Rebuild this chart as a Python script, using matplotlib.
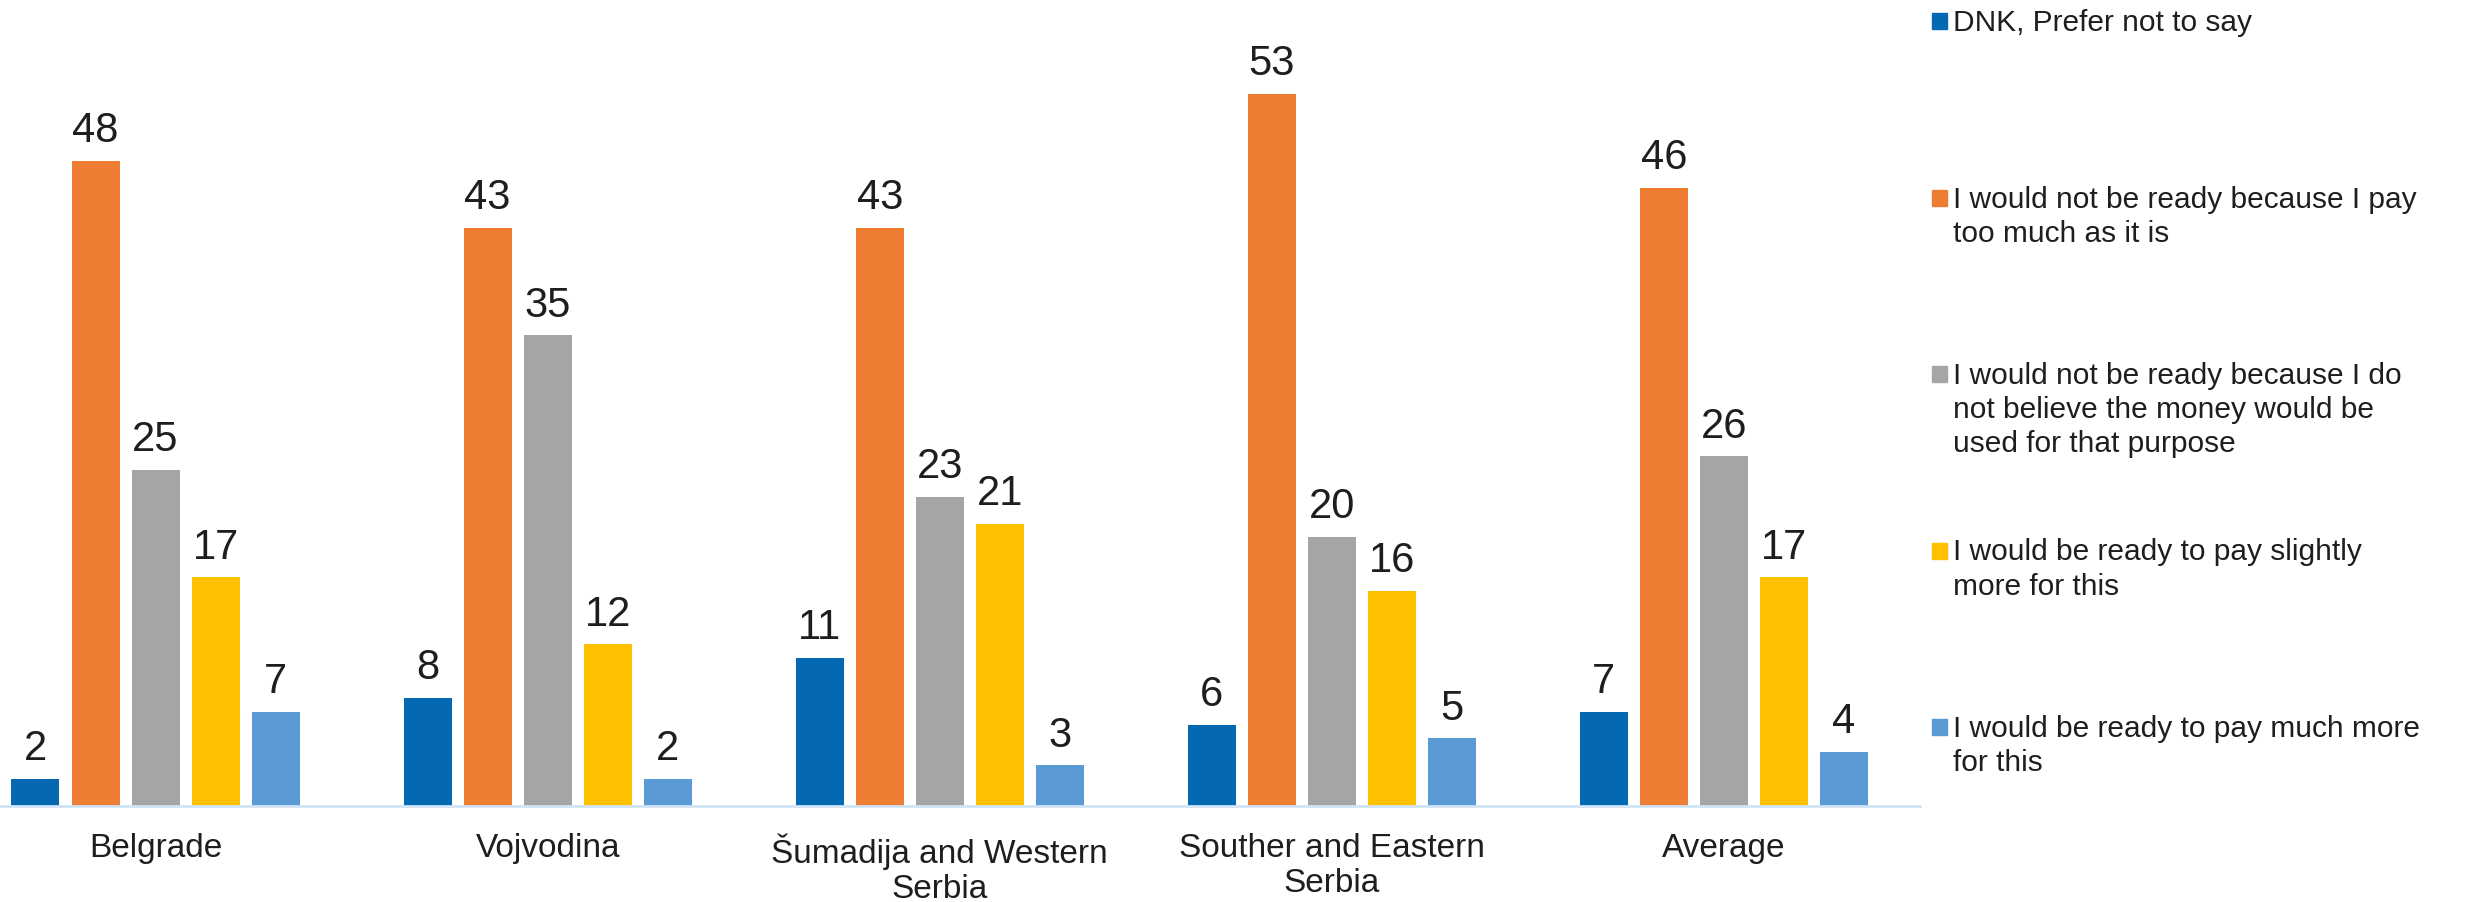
import matplotlib.pyplot as plt
import numpy as np
from matplotlib.patches import Rectangle

plt.rcParams['font.family'] = ['Liberation Sans', 'DejaVu Sans']

regions = ["Belgrade", "Vojvodina", "Šumadija and Western\nSerbia",
           "Souther and Eastern\nSerbia", "Average"]

answers = [
    "DNK, Prefer not to say",
    "I would not be ready because I pay\ntoo much as it is",
    "I would not be ready because I do\nnot believe the money would be\nused for that purpose",
    "I would be ready to pay slightly\nmore for this",
    "I would be ready to pay much more\nfor this",
]

dnk = [2, 8, 11, 6, 7]
pay_too_much = [48, 43, 43, 53, 46]
no_trust = [25, 35, 23, 20, 26]
slightly_more = [17, 12, 21, 16, 17]
much_more = [7, 2, 3, 5, 4]

series = [dnk, pay_too_much, no_trust, slightly_more, much_more]
colors = ["#0569B2", "#ED7D31", "#A5A5A5", "#FFC000", "#5B9BD5"]

text_col = "#1e1e1e"

fig = plt.figure(figsize=(24.73, 9.02), dpi=100)
ax = fig.add_axes([0, 0.1068, 0.7764, 0.8936])

x = np.arange(len(regions))
step = 0.1531
width = 0.1224

for j, (vals, col) in enumerate(zip(series, colors)):
    bars = ax.bar(x + (j - 2) * step, vals, width, color=col, zorder=2)
    ax.bar_label(bars, padding=7, fontsize=30, color=text_col)

ax.set_xlim(-0.3967, 4.5)
ax.set_ylim(0, 60)
ax.set_xticks(x)
ax.set_xticklabels(regions, fontsize=24, color=text_col, linespacing=1.15)
ax.tick_params(axis='x', length=0, pad=20)
ax.set_yticks([])
for s in ['top', 'right', 'left']:
    ax.spines[s].set_visible(False)
ax.spines['bottom'].set_color('#CFE4F7')
ax.spines['bottom'].set_linewidth(2)

# legend drawn by hand so every entry starts at an even spacing
W, H = 2473, 902
for k, (lab, col) in enumerate(zip(answers, colors)):
    top = 9 + k * 176.5
    fig.patches.append(Rectangle((1932 / W, 1 - (top + 20) / H), 15 / W, 16 / H,
                                 transform=fig.transFigure, color=col))
    fig.text(1953 / W, 1 - top / H, lab, fontsize=21.5, color=text_col,
             va='top', ha='left', linespacing=1.28)

fig.savefig("out.png", dpi=100)
